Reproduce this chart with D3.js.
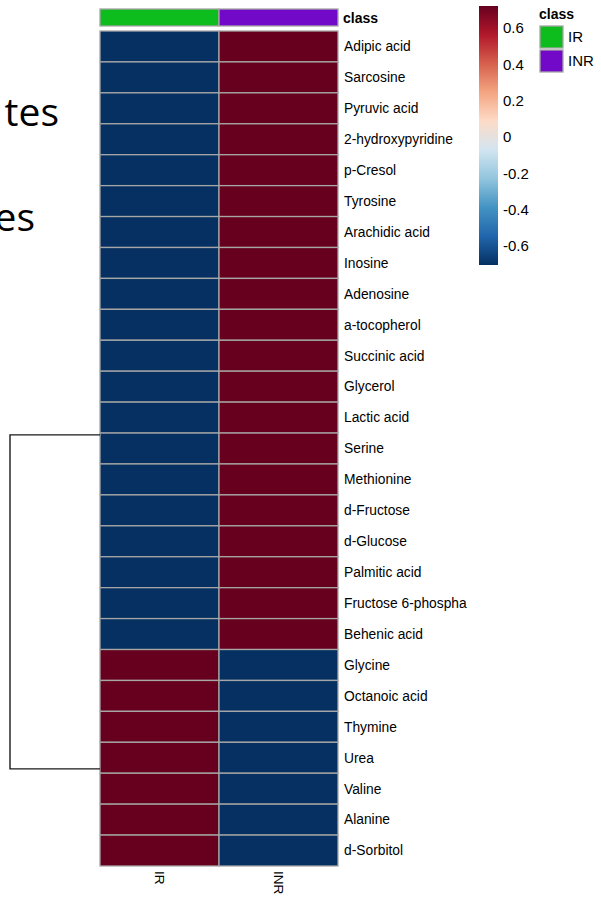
<!DOCTYPE html>
<html>
<head>
<meta charset="utf-8">
<script src="https://cdn.jsdelivr.net/npm/d3@7"></script>
<style>
  html, body { margin: 0; padding: 0; background: #ffffff; }
  svg { display: block; }
</style>
</head>
<body>
<svg id="chart" width="601" height="897"></svg>
<script>
// Metabolites (row order after clustering)
const metabolites = [
  "Adipic acid", "Sarcosine", "Pyruvic acid", "2-hydroxypyridine", "p-Cresol",
  "Tyrosine", "Arachidic acid", "Inosine", "Adenosine", "a-tocopherol",
  "Succinic acid", "Glycerol", "Lactic acid", "Serine", "Methionine",
  "d-Fructose", "d-Glucose", "Palmitic acid", "Fructose 6-phospha", "Behenic acid",
  "Glycine", "Octanoic acid", "Thymine", "Urea", "Valine", "Alanine", "d-Sorbitol"
];

// Groups (columns)
const groups = ["IR", "INR"];
const groupColors = ["#0cbd1d", "#7209c9"];

// Row-scaled group means
const valuesIR = [
  -0.707, -0.707, -0.707, -0.707, -0.707, -0.707, -0.707, -0.707, -0.707, -0.707,
  -0.707, -0.707, -0.707, -0.707, -0.707, -0.707, -0.707, -0.707, -0.707, -0.707,
   0.707,  0.707,  0.707,  0.707,  0.707,  0.707,  0.707
];
const valuesINR = [
   0.707,  0.707,  0.707,  0.707,  0.707,  0.707,  0.707,  0.707,  0.707,  0.707,
   0.707,  0.707,  0.707,  0.707,  0.707,  0.707,  0.707,  0.707,  0.707,  0.707,
  -0.707, -0.707, -0.707, -0.707, -0.707, -0.707, -0.707
];

// Colour bar ticks
const legendTicks = [0.6, 0.4, 0.2, 0, -0.2, -0.4, -0.6];
const tickLabels = ["0.6", "0.4", "0.2", "0", "-0.2", "-0.4", "-0.6"];
const legendRange = [-0.705, 0.721];

// Row dendrogram: the two cluster nodes (0-based leaf index) and root height
const clusterNodePos = [12.56, 23.36];
const clusterNodeHeight = [0, 0];
const rootHeight = 2;

// Diverging palette (RdBu, reversed)
const palette = ["#053061", "#2166AC", "#4393C3", "#92C5DE", "#D1E5F0",
                 "#FDDBC7", "#F4A582", "#D6604D", "#B2182B", "#67001F"];

const svg = d3.select("#chart");
const FONT = "'Liberation Sans', Arial, sans-serif";

// Slide text partly hidden behind the figure
svg.append("text").attr("x", 59).attr("y", 126)
  .attr("text-anchor", "end")
  .style("font-family", "'Open Sans', sans-serif").style("font-size", "39px").attr("fill", "#000")
  .text("tes");
svg.append("text").attr("x", 35).attr("y", 231)
  .attr("text-anchor", "end")
  .style("font-family", "'Open Sans', sans-serif").style("font-size", "39px").attr("fill", "#000")
  .text("es");

const vmin = -0.707, vmax = 0.707;
const color = d3.scaleLinear()
  .domain(d3.range(palette.length).map(i => vmin + (vmax - vmin) * i / (palette.length - 1)))
  .range(palette)
  .interpolate(d3.interpolateRgb);

const x = d3.scaleBand().domain(groups).range([100, 338]);
const y = d3.scaleBand().domain(metabolites).range([31, 866]);

const cells = [];
metabolites.forEach((m, i) => {
  cells.push({ row: m, col: "IR", v: valuesIR[i] });
  cells.push({ row: m, col: "INR", v: valuesINR[i] });
});

// Heatmap cells
svg.append("g").selectAll("rect").data(cells).join("rect")
  .attr("x", d => x(d.col))
  .attr("y", d => y(d.row))
  .attr("width", x.bandwidth())
  .attr("height", y.bandwidth())
  .attr("fill", d => color(d.v))
  .attr("stroke", "#a6a6a6")
  .attr("stroke-width", 1.3);

// Class annotation bar
svg.append("g").selectAll("rect").data(groups).join("rect")
  .attr("x", d => x(d))
  .attr("y", 9)
  .attr("width", x.bandwidth())
  .attr("height", 17)
  .attr("fill", (d, i) => groupColors[i])
  .attr("stroke", "#a6a6a6")
  .attr("stroke-width", 1.3);

svg.append("text").attr("x", 343).attr("y", 23)
  .style("font-family", FONT).style("font-size", "14px").style("font-weight", "bold")
  .text("class");

// Row labels
svg.append("g").selectAll("text").data(metabolites).join("text")
  .attr("x", 344)
  .attr("y", d => y(d) + y.bandwidth() / 2)
  .attr("dy", "0.35em")
  .style("font-family", FONT).style("font-size", "13.8px").attr("fill", "#000")
  .text(d => d);

// Column labels (rotated)
svg.append("g").selectAll("text").data(groups).join("text")
  .attr("transform", d => `translate(${x(d) + x.bandwidth() / 2 - 5},871) rotate(90)`)
  .style("font-family", FONT).style("font-size", "13.5px").attr("fill", "#000")
  .text(d => d);

// Row dendrogram
const hx = d3.scaleLinear().domain([0, rootHeight]).range([100, 10]);
const rowPos = p => 31 + (p + 0.5) * y.step();
const dend = d3.path();
dend.moveTo(hx(clusterNodeHeight[0]), rowPos(clusterNodePos[0]));
dend.lineTo(hx(rootHeight), rowPos(clusterNodePos[0]));
dend.lineTo(hx(rootHeight), rowPos(clusterNodePos[1]));
dend.lineTo(hx(clusterNodeHeight[1]), rowPos(clusterNodePos[1]));
svg.append("path").attr("d", dend.toString())
  .attr("fill", "none").attr("stroke", "#1a1a1a").attr("stroke-width", 1.4);

// Colour bar legend
const cbTop = 6, cbBottom = 265;
const ly = d3.scaleLinear().domain(legendRange).range([cbBottom, cbTop]);
const defs = svg.append("defs");
const grad = defs.append("linearGradient").attr("id", "cbar")
  .attr("x1", 0).attr("y1", 1).attr("x2", 0).attr("y2", 0);
palette.forEach((c, i) => {
  grad.append("stop").attr("offset", i / (palette.length - 1)).attr("stop-color", c);
});
svg.append("rect").attr("x", 479).attr("y", cbTop)
  .attr("width", 19).attr("height", cbBottom - cbTop)
  .attr("fill", "url(#cbar)");

svg.append("g").selectAll("text").data(legendTicks).join("text")
  .attr("x", 503)
  .attr("y", d => ly(d))
  .attr("dy", "0.35em")
  .style("font-family", FONT).style("font-size", "15px").attr("fill", "#000")
  .text((d, i) => tickLabels[i]);

// Class legend
svg.append("text").attr("x", 539).attr("y", 19)
  .style("font-family", FONT).style("font-size", "14px").style("font-weight", "bold")
  .text("class");
const lg = svg.append("g").selectAll("g").data(groups).join("g")
  .attr("transform", (d, i) => `translate(540,${26 + i * 24})`);
lg.append("rect").attr("width", 23).attr("height", 22)
  .attr("fill", (d, i) => groupColors[i])
  .attr("stroke", "#a6a6a6").attr("stroke-width", 1.3);
lg.append("text").attr("x", 28).attr("y", 11).attr("dy", "0.35em")
  .style("font-family", FONT).style("font-size", "15px").attr("fill", "#000")
  .text(d => d);
</script>
</body>
</html>
